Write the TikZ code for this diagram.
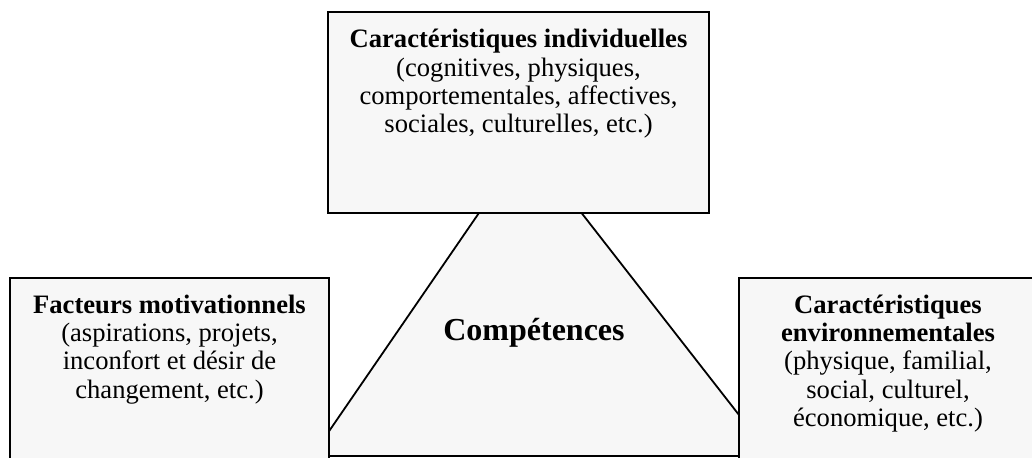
\documentclass[tikz,border=0pt]{standalone}
\usepackage{fontspec}
\setmainfont{Liberation Serif}
\usetikzlibrary{positioning}
\definecolor{boxfill}{HTML}{F7F7F7}
\begin{document}
\begin{tikzpicture}[x=0.5pt,y=-0.5pt,
  box/.style={draw,line width=0.9pt,fill=boxfill,inner sep=0pt,outer sep=0pt},
  boxtext/.style={align=center,inner sep=0pt,font=\fontsize{13.3}{14.1}\selectfont}]
\useasboundingbox (0,0) rectangle (1032,458);
\clip (0,0) rectangle (1032,458);
% the triangle sits behind the three boxes
\coordinate (apex) at (527,143);
\coordinate (baseL) at (312,456);
\coordinate (baseR) at (771,456);
\draw[line width=0.9pt,fill=boxfill] (apex) -- (baseL) -- (baseR) -- cycle;
\node[font=\fontsize{16}{18}\selectfont\bfseries,anchor=base] (comp) at (534,341) {Compétences};
% boxes
\node[box,minimum width=190.5pt,minimum height=100.5pt] (indiv) at (518.5,112.5) {};
\node[box,minimum width=159.5pt,minimum height=111pt] (motiv) at (169.5,389) {};
\node[box,minimum width=149pt,minimum height=111pt] (envir) at (888,389) {};
\node[boxtext,below=8.5pt of indiv.north] (indivtxt) {\textbf{Caractéristiques individuelles}\\(cognitives, physiques,\\comportementales, affectives,\\sociales, culturelles, etc.)};
\node[boxtext,below=8.3pt of motiv.north] (motivtxt) {\textbf{Facteurs motivationnels}\\(aspirations, projets,\\inconfort et désir de\\changement, etc.)};
\node[boxtext,below=8.3pt of envir.north] (envirtxt) {\textbf{Caractéristiques}\\\textbf{environnementales}\\(physique, familial,\\social, culturel,\\économique, etc.)};
\end{tikzpicture}
\end{document}
